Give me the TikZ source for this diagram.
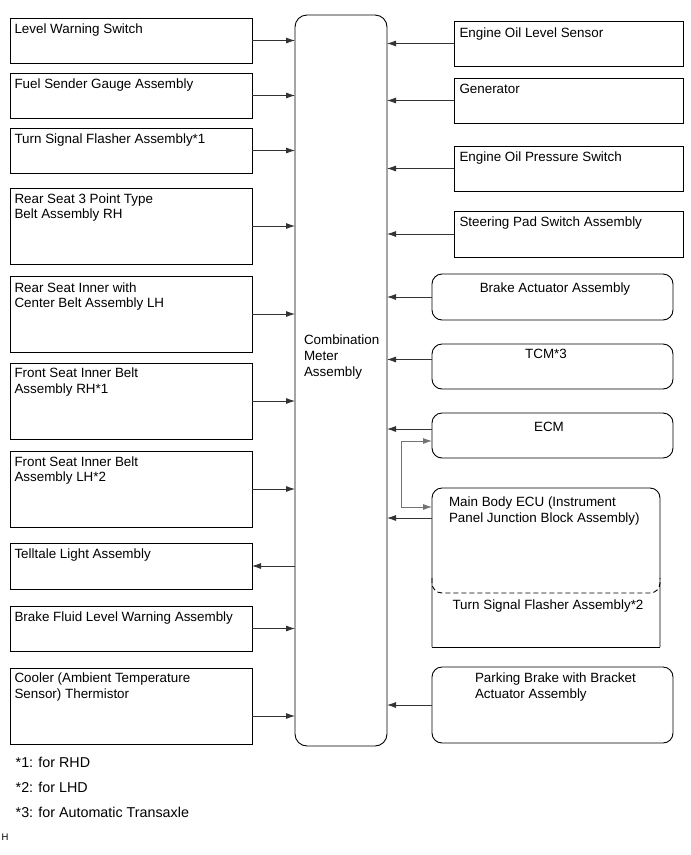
\documentclass[tikz,border=0pt]{standalone}
\usepackage{fontspec}
\setmainfont{Liberation Sans}
\usetikzlibrary{arrows.meta,calc}
\newcommand\bxfont{\fontsize{13.4}{15.7}\selectfont}
\newcommand\ftfont{\fontsize{14.3}{16}\selectfont}
\begin{document}
\begin{tikzpicture}[x=1pt,y=-1pt,
  sbox/.style={draw=black, line width=0.9pt, inner sep=0pt, outer sep=0pt, anchor=north west},
  lbox/.style={sbox, minimum width=242pt},
  rbox/.style={sbox, minimum width=229pt},
  rrbox/.style={sbox, minimum width=241pt, rounded corners=10pt},
  txt/.style={inner sep=0pt, outer sep=0pt, anchor=north west, align=left, font=\bxfont},
  ctxt/.style={inner sep=0pt, outer sep=0pt, anchor=north, align=center, font=\bxfont},
  arr/.style={draw=black!80, line width=0.8pt, -{Latex[length=9pt,width=6pt]}},
  link/.style={draw=black!55, line width=0.8pt, {Latex[length=9pt,width=6pt]}-{Latex[length=9pt,width=6pt]}}
]
\useasboundingbox[fill=white] (0,0) rectangle (691,855);

% central meter
\node[sbox, rounded corners=12pt, minimum width=92pt, minimum height=731pt] (cm) at (295,15) {};
\node[txt] (cm-t) at ([shift={(9pt,-320pt)}]cm.north west) {Combination\\Meter\\Assembly};

% left boxes
\node[lbox, minimum height=45pt] (lws) at (10,18) {};
\node[txt] at ([shift={(4.5pt,-5.5pt)}]lws.north west) {Level Warning Switch};
\node[lbox, minimum height=45pt] (fsg) at (10,73) {};
\node[txt] at ([shift={(4.5pt,-5.5pt)}]fsg.north west) {Fuel Sender Gauge Assembly};
\node[lbox, minimum height=45pt] (tsf) at (10,128) {};
\node[txt] at ([shift={(4.5pt,-5.5pt)}]tsf.north west) {Turn Signal Flasher Assembly*1};
\node[lbox, minimum height=76pt] (rs3) at (10,188) {};
\node[txt] at ([shift={(4.5pt,-5.5pt)}]rs3.north west) {Rear Seat 3 Point Type\\Belt Assembly RH};
\node[lbox, minimum height=76pt] (rsi) at (10,276) {};
\node[txt] at ([shift={(4.5pt,-6.5pt)}]rsi.north west) {Rear Seat Inner with\\Center Belt Assembly LH};
\node[lbox, minimum height=76pt] (fsr) at (10,363) {};
\node[txt] at ([shift={(4.5pt,-5pt)}]fsr.north west) {Front Seat Inner Belt\\Assembly RH*1};
\node[lbox, minimum height=76pt] (fsl) at (10,451) {};
\node[txt] at ([shift={(4.5pt,-5.5pt)}]fsl.north west) {Front Seat Inner Belt\\Assembly LH*2};
\node[lbox, minimum height=46pt] (tll) at (10,543) {};
\node[txt] at ([shift={(4.5pt,-5.5pt)}]tll.north west) {Telltale Light Assembly};
\node[lbox, minimum height=45pt] (bfl) at (10,606) {};
\node[txt] at ([shift={(4.5pt,-5.5pt)}]bfl.north west) {Brake Fluid Level Warning Assembly};
\node[lbox, minimum height=76pt] (cool) at (10,668) {};
\node[txt] at ([shift={(4.5pt,-5pt)}]cool.north west) {Cooler (Ambient Temperature\\Sensor) Thermistor};

% right boxes
\node[rbox, minimum height=45pt] (eol) at (454,21) {};
\node[txt] at ([shift={(5.5pt,-6.5pt)}]eol.north west) {Engine Oil Level Sensor};
\node[rbox, minimum height=45pt] (gen) at (454,78) {};
\node[txt] at ([shift={(5.5pt,-6.5pt)}]gen.north west) {Generator};
\node[rbox, minimum height=45pt] (eop) at (454,146) {};
\node[txt] at ([shift={(5.5pt,-5.5pt)}]eop.north west) {Engine Oil Pressure Switch};
\node[rbox, minimum height=46pt] (sps) at (454,211) {};
\node[txt] at ([shift={(5.5pt,-5.5pt)}]sps.north west) {Steering Pad Switch Assembly};

\node[rrbox, minimum height=46pt] (bra) at (432,274) {};
\node[ctxt] at ([shift={(2.5pt,-9pt)}]bra.north) {Brake Actuator Assembly};
\node[rrbox, minimum height=45pt] (tcm) at (432,344) {};
\node[ctxt] at ([shift={(-6.5pt,-5pt)}]tcm.north) {TCM*3};
\node[rrbox, minimum height=45pt] (ecm) at (432,413) {};
\node[ctxt] at ([shift={(-3.5pt,-9pt)}]ecm.north) {ECM};

% main body ECU with turn signal flasher
\node[inner sep=0pt, outer sep=0pt, minimum width=228pt, minimum height=159pt, anchor=north west] (mb) at (432,488) {};
\draw[line width=0.9pt, rounded corners=10pt] (mb.south west) |- (mb.north) -| (mb.south east);
\draw[line width=0.9pt] (mb.south west) -- (mb.south east);
\draw[line width=0.9pt, dashed, dash pattern=on 5pt off 3pt, rounded corners=10pt]
  ([yshift=-90pt]mb.north west) |- ([yshift=-105pt]mb.north) -| ([yshift=-90pt]mb.north east);
\node[txt] at ([shift={(17pt,-9pt)}]mb.north west) {Main Body ECU (Instrument\\Panel Junction Block Assembly)};
\node[ctxt] at ([shift={(2pt,-112pt)}]mb.north) {Turn Signal Flasher Assembly*2};

\node[rrbox, minimum height=76pt] (pbk) at (432,667) {};
\node[txt] at ([shift={(43pt,-6pt)}]pbk.north west) {Parking Brake with Bracket\\Actuator Assembly};

% connectors left
\foreach \b in {lws,fsg,tsf,rs3,rsi,fsr,fsl,bfl}
  \draw[arr] (\b.east) -- (\b.east -| cm.west);
\draw[arr] (tll.east -| cm.west) -- (tll.east);
\coordinate (coolout) at ([yshift=-10pt]cool.east);
\draw[arr] (coolout) -- (coolout -| cm.west);

% connectors right
\foreach \b in {eol,gen,eop,sps,bra,pbk}
  \draw[arr] (\b.west) -- (\b.west -| cm.east);
\coordinate (tcmout) at ([yshift=7pt]tcm.west);
\draw[arr] (tcmout) -- (tcmout -| cm.east);
\coordinate (ecmout) at ([yshift=6.5pt]ecm.west);
\draw[arr] (ecmout) -- (ecmout -| cm.east);
\coordinate (mbout) at ([yshift=-30pt]mb.north west);
\draw[arr] (mbout) -- (mbout -| cm.east);
\coordinate (ecmin) at ([yshift=-5.5pt]ecm.west);
\coordinate (mbin) at ([yshift=-19pt]mb.north west);
\coordinate (lk) at (401,441);
\draw[link] (ecmin) -- (ecmin -| lk) |- (mbin);

% footnotes
\node[inner sep=0pt, anchor=north west, font=\ftfont] (n1) at (15.5,757) {*1: for RHD};
\node[inner sep=0pt, anchor=north west, font=\ftfont] (n2) at (15.5,782) {*2: for LHD};
\node[inner sep=0pt, anchor=north west, font=\ftfont] (n3) at (15.5,807) {*3: for Automatic Transaxle};
\node[inner sep=0pt, anchor=north west, font=\fontsize{9.5}{11}\selectfont] (hh) at (1.5,834) {H};
\end{tikzpicture}
\end{document}
